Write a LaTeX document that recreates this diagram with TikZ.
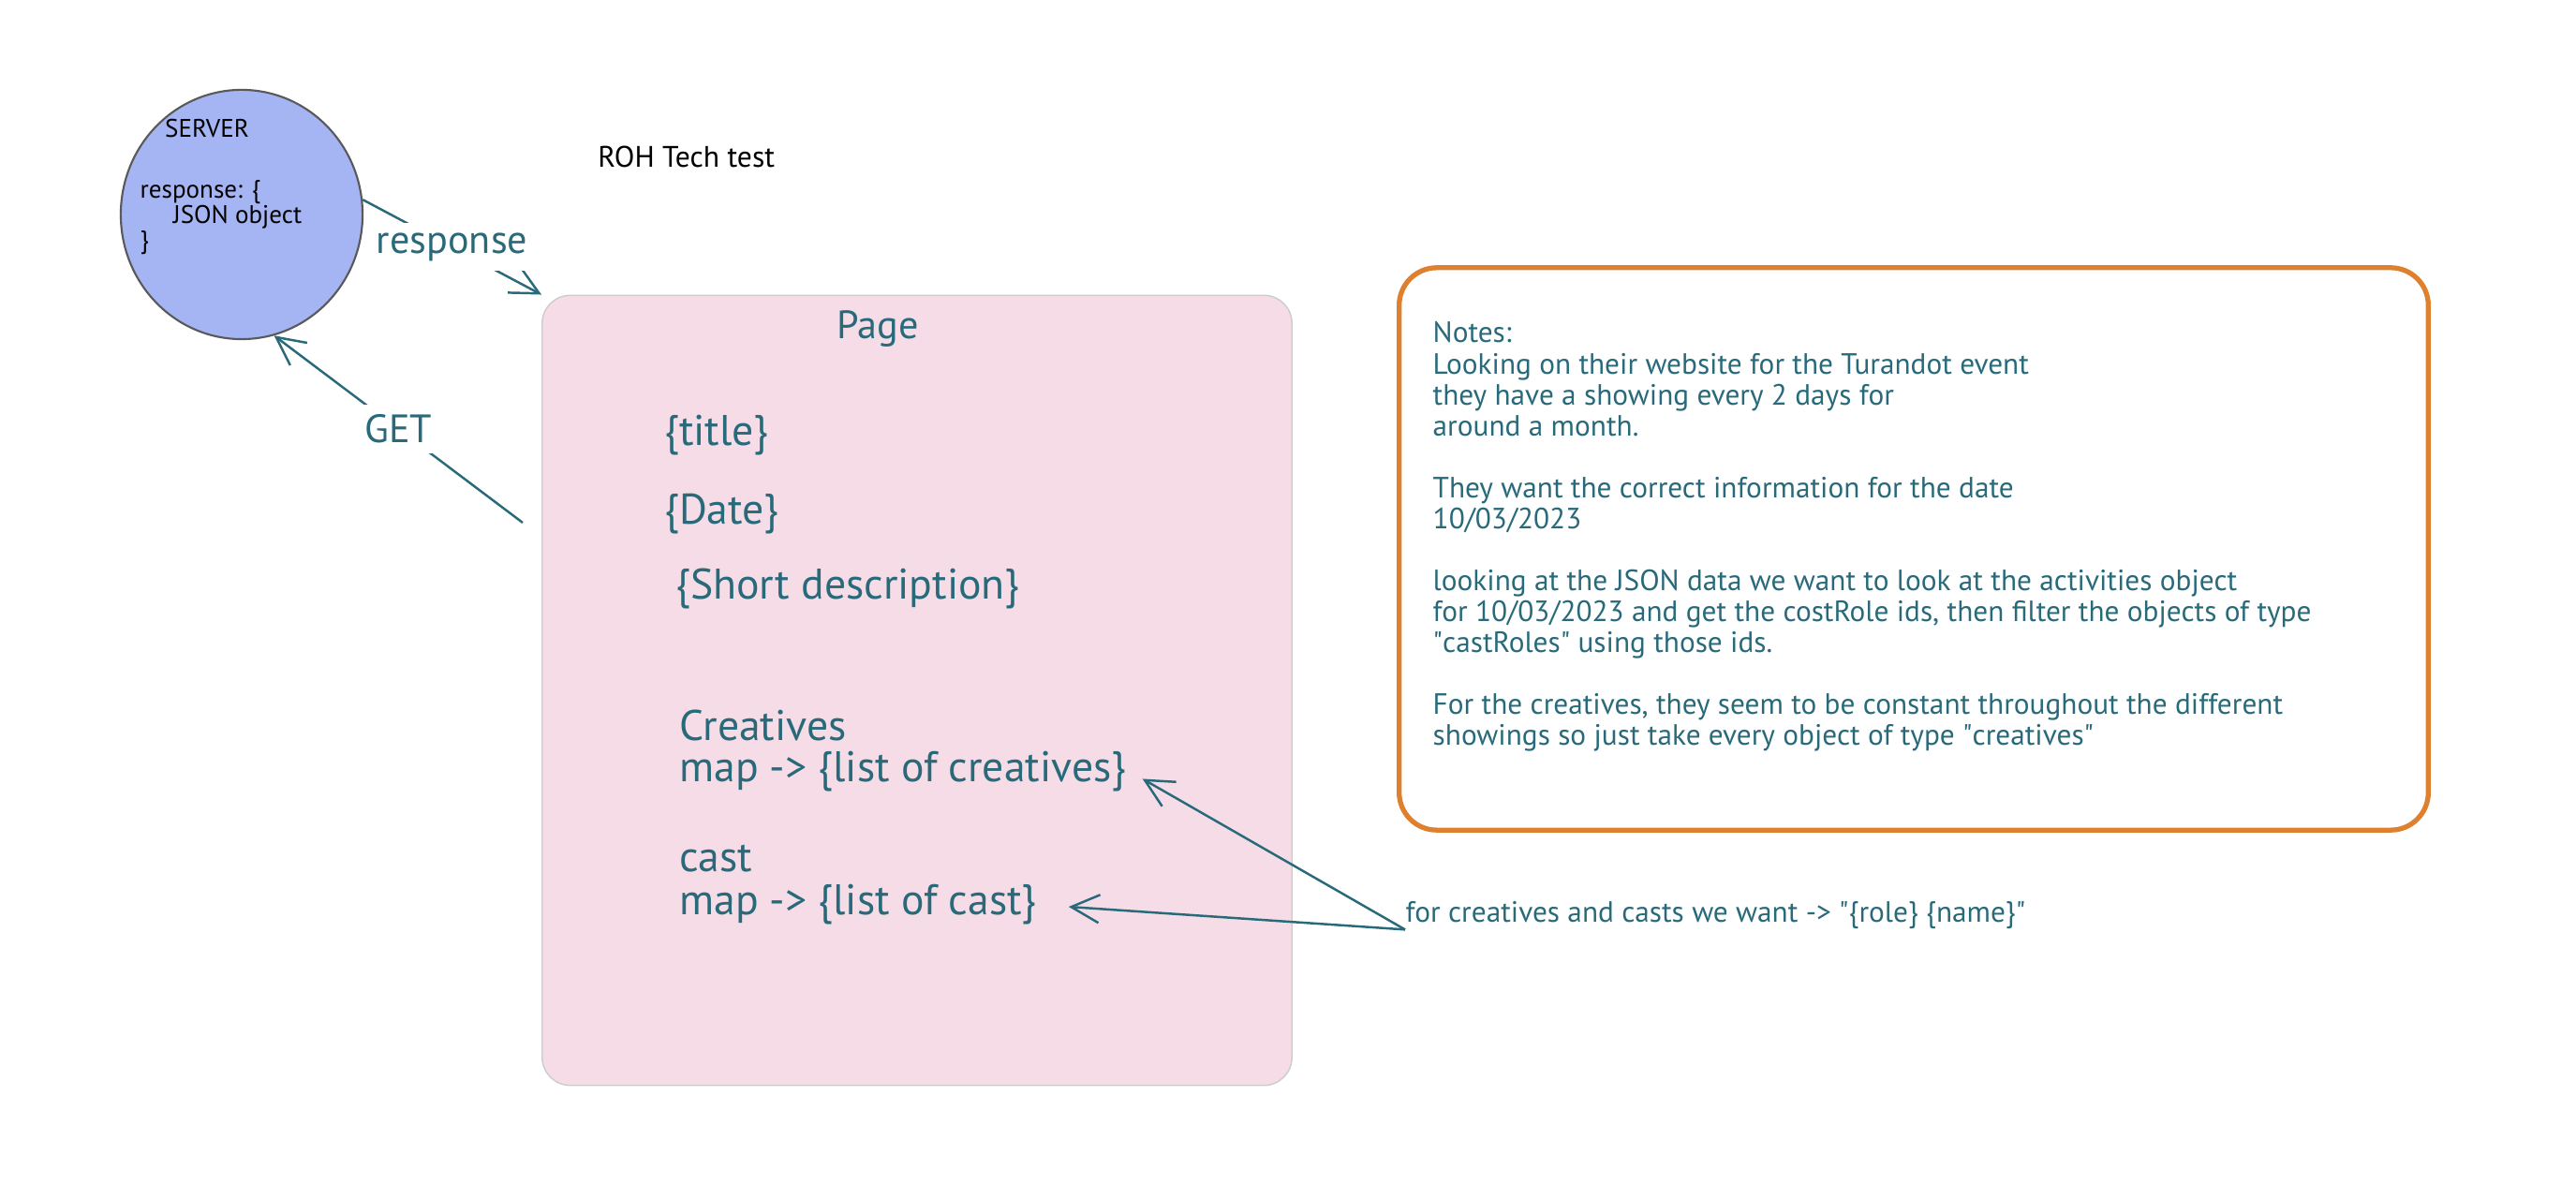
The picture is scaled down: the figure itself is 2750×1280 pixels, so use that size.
\documentclass[tikz,border=0pt]{standalone}
\usepackage{fontspec}
\setmainfont{PT Sans}
\usetikzlibrary{shapes.geometric,arrows.meta,positioning}
\definecolor{inkteal}{RGB}{40,106,122}
\definecolor{pagepink}{RGB}{245,220,230}
\definecolor{servblue}{RGB}{165,180,242}
\definecolor{noteorange}{RGB}{222,128,46}
\tikzset{
  server/.style={ellipse, draw=black!65, fill=servblue, line width=0.6pt, minimum width=2.58cm, minimum height=2.66cm},
  srvtext/.style={text=black, font=\fontsize{7.7}{7.7}\selectfont, inner sep=0pt},
  pagebox/.style={rectangle, draw=black!20, fill=pagepink, rounded corners=0.3cm, minimum width=8cm, minimum height=8.43cm},
  notebox/.style={rectangle, draw=noteorange, line width=1.5pt, rounded corners=0.4cm, minimum width=10.98cm, minimum height=6cm},
  item/.style={anchor=west, text=inkteal, font=\fontsize{13}{15}\selectfont, inner sep=1pt},
  note/.style={text=inkteal, font=\fontsize{8.9}{9.4}\selectfont, inner sep=0pt},
  lbl/.style={text=inkteal, font=\fontsize{12}{14}\selectfont, fill=white, inner sep=3pt},
  arr/.style={-{Straight Barb[length=3mm,width=3mm]}, draw=inkteal, line width=0.7pt}
}
\begin{document}
\begin{tikzpicture}[x=0.01cm, y=-0.01cm]
\useasboundingbox (0,0) rectangle (2750,1280);

% server
\node[server] (server) at (258,229) {};
\node[srvtext] (srvname) at (221,137) {SERVER};
\node[srvtext, anchor=north west, align=left] (srvbody) at (149,192) {response: \{\\\hspace{10pt}JSON object\\\}};

\node[text=black, font=\fontsize{9}{10}\selectfont, anchor=west] (title) at (626,167) {ROH Tech test};

% page
\node[pagebox] (page) at (979,737) {};
\node[text=inkteal, font=\fontsize{12}{14}\selectfont] (pagelbl) at (937,351) {Page};
\node[item] (ttl) at (705,465) {\{title\}};
\node[item] (date) at (705,549) {\{Date\}};
\node[item] (desc) at (717,628) {\{Short description\}};
\node[item] (crehead) at (721,775) {Creatives};
\node[item] (crea) at (721,824) {map -> \{list of creatives\}};
\node[item] (casthead) at (721,917) {cast};
\node[item] (castmap) at (721,966) {map -> \{list of cast\}};

% notes
\node[notebox] (notes) at (2043,586) {};
\node[note, anchor=north west, align=left] (notetext) at (1529,343) {Notes:\\
Looking on their website for the Turandot event\\
they have a showing every 2 days for\\
around a month.\\[9.4pt]
They want the correct information for the date\\
10/03/2023\\[9.4pt]
looking at the JSON data we want to look at the activities object\\
for 10/03/2023 and get the costRole ids, then filter the objects of type\\
\textquotedbl castRoles\textquotedbl{} using those ids.\\[9.4pt]
For the creatives, they seem to be constant throughout the different\\
showings so just take every object of type \textquotedbl creatives\textquotedbl};

\node[note, anchor=west] (want) at (1500,977) {for creatives and casts we want -> \textquotedbl\{role\} \{name\}\textquotedbl};

% connectors
\coordinate (getstart) at (558,558);
\draw[arr] (server.7) -- node[lbl] (resp) {response} (page.north west);
\draw[arr] (getstart) -- node[lbl] (get) {GET} (server.-75);
\draw[arr, shorten >=0.15cm] (want.south west) -- (crea.east);
\draw[arr, shorten >=0.3cm] (want.south west) -- (castmap.east);
\end{tikzpicture}
\end{document}
